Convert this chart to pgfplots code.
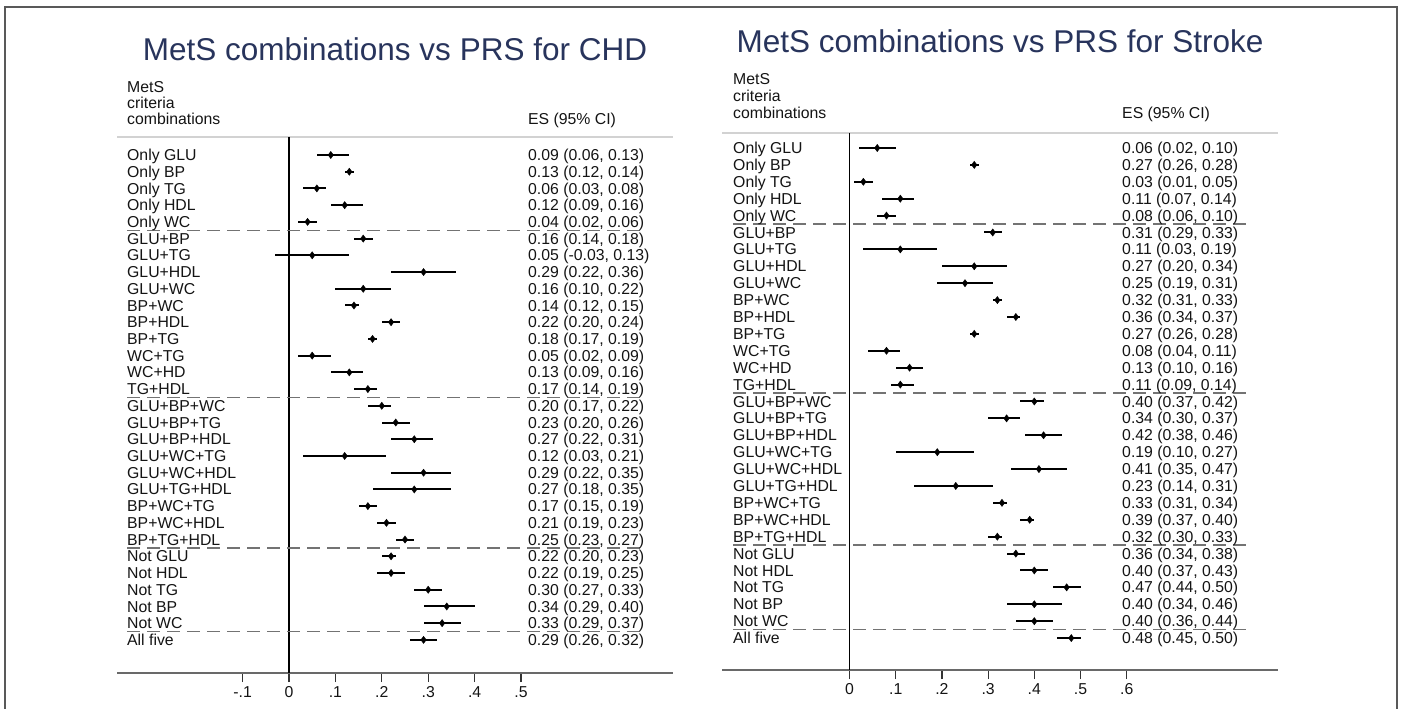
\documentclass[border=0pt]{standalone}
\usepackage{pgfplots}
\pgfplotsset{compat=1.18}
\usepackage{pgfplotstable}
\usepackage{fontspec}
\setmainfont{Liberation Sans}
\definecolor{titleblue}{RGB}{40,52,92}
\definecolor{dashgray}{RGB}{115,115,115}
\definecolor{topgray}{RGB}{210,210,210}
\definecolor{axgray}{RGB}{105,105,105}
\definecolor{txt}{RGB}{20,20,20}

\pgfplotstableread{
row es lo hi
1 0.09 0.06 0.13
2 0.13 0.12 0.14
3 0.06 0.03 0.08
4 0.12 0.09 0.16
5 0.04 0.02 0.06
6 0.16 0.14 0.18
7 0.05 -0.03 0.13
8 0.29 0.22 0.36
9 0.16 0.10 0.22
10 0.14 0.12 0.15
11 0.22 0.20 0.24
12 0.18 0.17 0.19
13 0.05 0.02 0.09
14 0.13 0.09 0.16
15 0.17 0.14 0.19
16 0.20 0.17 0.22
17 0.23 0.20 0.26
18 0.27 0.22 0.31
19 0.12 0.03 0.21
20 0.29 0.22 0.35
21 0.27 0.18 0.35
22 0.17 0.15 0.19
23 0.21 0.19 0.23
24 0.25 0.23 0.27
25 0.22 0.20 0.23
26 0.22 0.19 0.25
27 0.30 0.27 0.33
28 0.34 0.29 0.40
29 0.33 0.29 0.37
30 0.29 0.26 0.32
}\chd

\pgfplotstableread{
row es lo hi
1 0.06 0.02 0.10
2 0.27 0.26 0.28
3 0.03 0.01 0.05
4 0.11 0.07 0.14
5 0.08 0.06 0.10
6 0.31 0.29 0.33
7 0.11 0.03 0.19
8 0.27 0.20 0.34
9 0.25 0.19 0.31
10 0.32 0.31 0.33
11 0.36 0.34 0.37
12 0.27 0.26 0.28
13 0.08 0.04 0.11
14 0.13 0.10 0.16
15 0.11 0.09 0.14
16 0.40 0.37 0.42
17 0.34 0.30 0.37
18 0.42 0.38 0.46
19 0.19 0.10 0.27
20 0.41 0.35 0.47
21 0.23 0.14 0.31
22 0.33 0.31 0.34
23 0.39 0.37 0.40
24 0.32 0.30 0.33
25 0.36 0.34 0.38
26 0.40 0.37 0.43
27 0.47 0.44 0.50
28 0.40 0.34 0.46
29 0.40 0.36 0.44
30 0.48 0.45 0.50
}\stroke

\newcommand\rowfont{\fontsize{15.8}{17}\selectfont}

\begin{document}
\begin{tikzpicture}[x=1pt,y=1pt]
\useasboundingbox (0,0) rectangle (1402,709);
\fill[white] (0,0) rectangle (1402,709);
\draw[line width=1.5pt, black!65] (5,-3) -- (5,702) -- (1397,702) -- (1397,-3);

% ---------- LEFT PANEL ----------
\node[anchor=base, font=\fontsize{31.5}{34}\selectfont, text=titleblue, inner sep=0] at (395,648) {MetS combinations vs PRS for CHD};
\node[anchor=base west, font=\rowfont, text=txt, inner sep=0] at (127,616) {MetS};
\node[anchor=base west, font=\rowfont, text=txt, inner sep=0] at (127,600) {criteria};
\node[anchor=base west, font=\rowfont, text=txt, inner sep=0] at (127,584) {combinations};
\node[anchor=base west, font=\rowfont, text=txt, inner sep=0] at (528,584) {ES (95\% CI)};
\draw[topgray, line width=1.5pt] (117,572) -- (673,572);

\begin{axis}[
  at={(117pt,36pt)}, anchor=south west, scale only axis,
  width=556pt, height=536pt,
  xmin=-0.3707, xmax=0.8276, ymin=-31.98, ymax=0.077,
  axis x line*=bottom, axis y line=none,
  axis line style={axgray, line width=2pt},
  xtick={-0.1,0,0.1,0.2,0.3,0.4,0.5},
  xticklabels={-.1,0,.1,.2,.3,.4,.5},
  ytick=\empty,
  tick align=outside, major tick length=9pt,
  tick style={black!80, line width=1.2pt},
  xticklabel style={font=\rowfont, text=txt, yshift=-1pt},
  clip=false,
]
\draw[black, line width=1.2pt] (axis cs:0,0.077) -- (axis cs:0,-31.98);
\addplot[only marks, mark=diamond*, mark size=3.6pt, black,
  error bars/.cd, x dir=both, x explicit, error mark=none,
  error bar style={line width=2pt, black}]
  table[x=es, y expr=-\thisrow{row},
        x error plus expr=\thisrow{hi}-\thisrow{es},
        x error minus expr=\thisrow{es}-\thisrow{lo}] {\chd};
\end{axis}

\foreach \r in {5.5,15.5,24.5,29.5}{
  \pgfmathsetmacro\yy{709-138.28-16.72*\r}
  \draw[dashgray, line width=1.3pt, dash pattern=on 13pt off 7pt] (127,\yy) -- (645,\yy);
}

\foreach \lab/\val [count=\i] in {
 {Only GLU/0.09 (0.06, 0.13)},
 {Only BP/0.13 (0.12, 0.14)},
 {Only TG/0.06 (0.03, 0.08)},
 {Only HDL/0.12 (0.09, 0.16)},
 {Only WC/0.04 (0.02, 0.06)},
 {GLU+BP/0.16 (0.14, 0.18)},
 {GLU+TG/0.05 (-0.03, 0.13)},
 {GLU+HDL/0.29 (0.22, 0.36)},
 {GLU+WC/0.16 (0.10, 0.22)},
 {BP+WC/0.14 (0.12, 0.15)},
 {BP+HDL/0.22 (0.20, 0.24)},
 {BP+TG/0.18 (0.17, 0.19)},
 {WC+TG/0.05 (0.02, 0.09)},
 {WC+HD/0.13 (0.09, 0.16)},
 {TG+HDL/0.17 (0.14, 0.19)},
 {GLU+BP+WC/0.20 (0.17, 0.22)},
 {GLU+BP+TG/0.23 (0.20, 0.26)},
 {GLU+BP+HDL/0.27 (0.22, 0.31)},
 {GLU+WC+TG/0.12 (0.03, 0.21)},
 {GLU+WC+HDL/0.29 (0.22, 0.35)},
 {GLU+TG+HDL/0.27 (0.18, 0.35)},
 {BP+WC+TG/0.17 (0.15, 0.19)},
 {BP+WC+HDL/0.21 (0.19, 0.23)},
 {BP+TG+HDL/0.25 (0.23, 0.27)},
 {Not GLU/0.22 (0.20, 0.23)},
 {Not HDL/0.22 (0.19, 0.25)},
 {Not TG/0.30 (0.27, 0.33)},
 {Not BP/0.34 (0.29, 0.40)},
 {Not WC/0.33 (0.29, 0.37)},
 {All five/0.29 (0.26, 0.32)}}{
  \pgfmathsetmacro\yy{709-138.28-16.72*\i-5.6}
  \node[anchor=base west, font=\rowfont, text=txt, inner sep=0] at (127,\yy) {\lab};
  \node[anchor=base west, font=\rowfont, text=txt, inner sep=0] at (528,\yy) {\val};
}

% ---------- RIGHT PANEL ----------
\node[anchor=base, font=\fontsize{31.5}{34}\selectfont, text=titleblue, inner sep=0] at (1000,656) {MetS combinations vs PRS for Stroke};
\node[anchor=base west, font=\rowfont, text=txt, inner sep=0] at (733,624) {MetS};
\node[anchor=base west, font=\rowfont, text=txt, inner sep=0] at (733,607) {criteria};
\node[anchor=base west, font=\rowfont, text=txt, inner sep=0] at (733,590) {combinations};
\node[anchor=base west, font=\rowfont, text=txt, inner sep=0] at (1122,590) {ES (95\% CI)};
\draw[topgray, line width=1.5pt] (722,576) -- (1278,576);

\begin{axis}[
  at={(722pt,39pt)}, anchor=south west, scale only axis,
  width=556pt, height=537pt,
  xmin=-0.276, xmax=0.9275, ymin=-31.89, ymax=-0.112,
  axis x line*=bottom, axis y line=none,
  axis line style={axgray, line width=2pt},
  xtick={0,0.1,0.2,0.3,0.4,0.5,0.6},
  xticklabels={0,.1,.2,.3,.4,.5,.6},
  ytick=\empty,
  tick align=outside, major tick length=9pt,
  tick style={black!80, line width=1.2pt},
  xticklabel style={font=\rowfont, text=txt, yshift=-1pt},
  clip=false,
]
\draw[black, line width=1.2pt] (axis cs:0,-0.112) -- (axis cs:0,-31.89);
\addplot[only marks, mark=diamond*, mark size=3.6pt, black,
  error bars/.cd, x dir=both, x explicit, error mark=none,
  error bar style={line width=2pt, black}]
  table[x=es, y expr=-\thisrow{row},
        x error plus expr=\thisrow{hi}-\thisrow{es},
        x error minus expr=\thisrow{es}-\thisrow{lo}] {\stroke};
\end{axis}

\foreach \r in {5.5,15.5,24.5,29.5}{
  \pgfmathsetmacro\yy{709-131.1-16.9*\r}
  \draw[dashgray, line width=1.3pt, dash pattern=on 13pt off 7pt] (733,\yy) -- (1250,\yy);
}

\foreach \lab/\val [count=\i] in {
 {Only GLU/0.06 (0.02, 0.10)},
 {Only BP/0.27 (0.26, 0.28)},
 {Only TG/0.03 (0.01, 0.05)},
 {Only HDL/0.11 (0.07, 0.14)},
 {Only WC/0.08 (0.06, 0.10)},
 {GLU+BP/0.31 (0.29, 0.33)},
 {GLU+TG/0.11 (0.03, 0.19)},
 {GLU+HDL/0.27 (0.20, 0.34)},
 {GLU+WC/0.25 (0.19, 0.31)},
 {BP+WC/0.32 (0.31, 0.33)},
 {BP+HDL/0.36 (0.34, 0.37)},
 {BP+TG/0.27 (0.26, 0.28)},
 {WC+TG/0.08 (0.04, 0.11)},
 {WC+HD/0.13 (0.10, 0.16)},
 {TG+HDL/0.11 (0.09, 0.14)},
 {GLU+BP+WC/0.40 (0.37, 0.42)},
 {GLU+BP+TG/0.34 (0.30, 0.37)},
 {GLU+BP+HDL/0.42 (0.38, 0.46)},
 {GLU+WC+TG/0.19 (0.10, 0.27)},
 {GLU+WC+HDL/0.41 (0.35, 0.47)},
 {GLU+TG+HDL/0.23 (0.14, 0.31)},
 {BP+WC+TG/0.33 (0.31, 0.34)},
 {BP+WC+HDL/0.39 (0.37, 0.40)},
 {BP+TG+HDL/0.32 (0.30, 0.33)},
 {Not GLU/0.36 (0.34, 0.38)},
 {Not HDL/0.40 (0.37, 0.43)},
 {Not TG/0.47 (0.44, 0.50)},
 {Not BP/0.40 (0.34, 0.46)},
 {Not WC/0.40 (0.36, 0.44)},
 {All five/0.48 (0.45, 0.50)}}{
  \pgfmathsetmacro\yy{709-131.1-16.9*\i-5.6}
  \node[anchor=base west, font=\rowfont, text=txt, inner sep=0] at (733,\yy) {\lab};
  \node[anchor=base west, font=\rowfont, text=txt, inner sep=0] at (1122,\yy) {\val};
}
\end{tikzpicture}
\end{document}
